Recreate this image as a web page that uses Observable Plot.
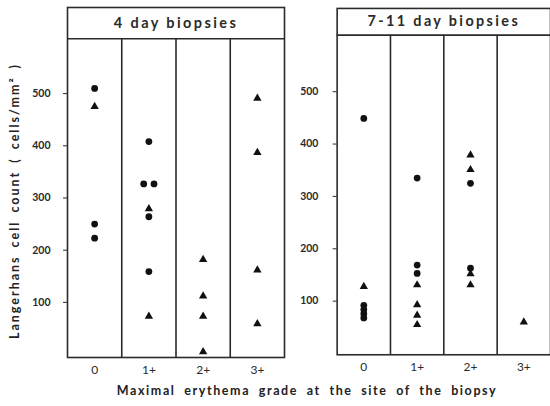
<!DOCTYPE html>
<html><head><meta charset="utf-8">
<script src="https://cdn.jsdelivr.net/npm/d3@7"></script>
<script src="https://cdn.jsdelivr.net/npm/@observablehq/plot@0.6"></script>
<style>
html,body{margin:0;padding:0;background:#fff;overflow:hidden}
#wrap{position:relative;width:550px;height:406px;overflow:hidden;background:#fff;font-family:Lato,"DejaVu Sans",sans-serif;color:#222}
#p1,#p2{position:absolute;top:0}
#p1{left:0}
#p2{left:290px}
#xtitle{position:absolute;left:307px;top:390px;transform:translate(-50%,-50%);white-space:nowrap;font-size:12.5px;font-weight:700;letter-spacing:1.6px;word-spacing:4px}
#ytitle{position:absolute;left:14px;top:201px;transform:translate(-50%,-50%) rotate(-90deg);white-space:nowrap;font-size:12.5px;font-weight:700;letter-spacing:2px;word-spacing:3px}
</style></head><body>
<div id="wrap">
  <div id="p1"></div>
  <div id="p2"></div>
  <div id="xtitle">Maximal erythema grade at the site of the biopsy</div>
  <div id="ytitle">Langerhans cell count ( cells/mm² )</div>
</div>
<script>
// ---- data ----
const grades = ["0", "1+", "2+", "3+"];
const panelTitles = ["4 day biopsies", "7-11 day biopsies"];
const yTicks = [100, 200, 300, 400, 500];

// [grade index, cells/mm², side-by-side offset]
const day4Circles = [
  [0, 510, 0], [0, 250, 0], [0, 223, 0],
  [1, 408, 0], [1, 327, -1], [1, 327, 1], [1, 264, 0], [1, 159, 0]
];
const day4Triangles = [
  [0, 475, 0],
  [1, 279, 0], [1, 73, 0],
  [2, 182, 0], [2, 112, 0], [2, 73, 0], [2, 5, 0],
  [3, 491, 0], [3, 387, 0], [3, 162, 0], [3, 59, 0]
];
const day711Circles = [
  [0, 449, 0], [0, 92, 0], [0, 84, 0], [0, 76, 0], [0, 68, 0],
  [1, 335, 0], [1, 169, 0], [1, 153, 0],
  [2, 325, 0], [2, 163, 0]
];
const day711Triangles = [
  [0, 128, 0],
  [1, 131, 0], [1, 93, 0], [1, 73, 0], [1, 55, 0],
  [2, 379, 0], [2, 351, 0], [2, 152, 0], [2, 131, 0],
  [3, 60, 0]
];

// ---- drawing ----
function panel(title, circles, triangles, cfg) {
  const ink = "#2a2a2a";
  const xOf = d => d[0] + 0.5 + d[2] * 0.095;
  const svg = Plot.plot({
    width: cfg.width,
    height: 380,
    marginLeft: cfg.marginLeft,
    marginRight: cfg.marginRight,
    marginTop: cfg.marginTop,
    marginBottom: 23,
    style: {fontFamily: "Lato, 'DejaVu Sans', sans-serif", color: ink, background: "transparent"},
    x: {domain: [0, 4], axis: null},
    y: {domain: cfg.yDomain, axis: null},
    marks: [
      Plot.ruleX([1, 2, 3], {y1: cfg.yDomain[0], y2: cfg.headerY, stroke: ink, strokeWidth: 1.6}),
      Plot.ruleY([cfg.headerY], {stroke: ink, strokeWidth: 1.6}),
      Plot.frame({stroke: ink, strokeWidth: 1.6}),
      Plot.text([title], {x: 2, y: (cfg.headerY + cfg.yDomain[1]) / 2, text: d => d,
        fontSize: 14.5, fontWeight: 700, fill: ink}),
      Plot.axisY({ticks: yTicks, tickSize: 4, tickPadding: cfg.tickPadding, label: null,
        fontSize: 10.5, fontWeight: 700, stroke: ink, fill: ink}),
      Plot.axisX({ticks: grades.map((g, i) => i + 0.5), tickSize: 0, tickPadding: 8, label: null,
        tickFormat: d => grades[Math.round(d - 0.5)], fontSize: 12, fill: ink}),
      Plot.dot(circles, {x: xOf, y: d => d[1], r: 3.4, symbol: "circle", fill: "#111", stroke: "none"}),
      Plot.dot(triangles, {x: xOf, y: d => d[1], r: 3.1, symbol: "triangle", fill: "#111", stroke: "none"})
    ]
  });
  d3.select(svg).selectAll('g[aria-label="text"] text')
    .attr("letter-spacing", "2.4px").style("letter-spacing", "2.4px");
  return svg;
}

document.getElementById("p1").appendChild(panel(panelTitles[0], day4Circles, day4Triangles, {
  width: 290, marginLeft: 67, marginRight: 6, marginTop: 7,
  yDomain: [-5.7, 665], headerY: 605, tickPadding: 13
}));
document.getElementById("p2").appendChild(panel(panelTitles[1], day711Circles, day711Triangles, {
  width: 262, marginLeft: 47, marginRight: 0, marginTop: 8,
  yDomain: [-2.4, 659], headerY: 608, tickPadding: 15
}));
</script>
</body></html>
